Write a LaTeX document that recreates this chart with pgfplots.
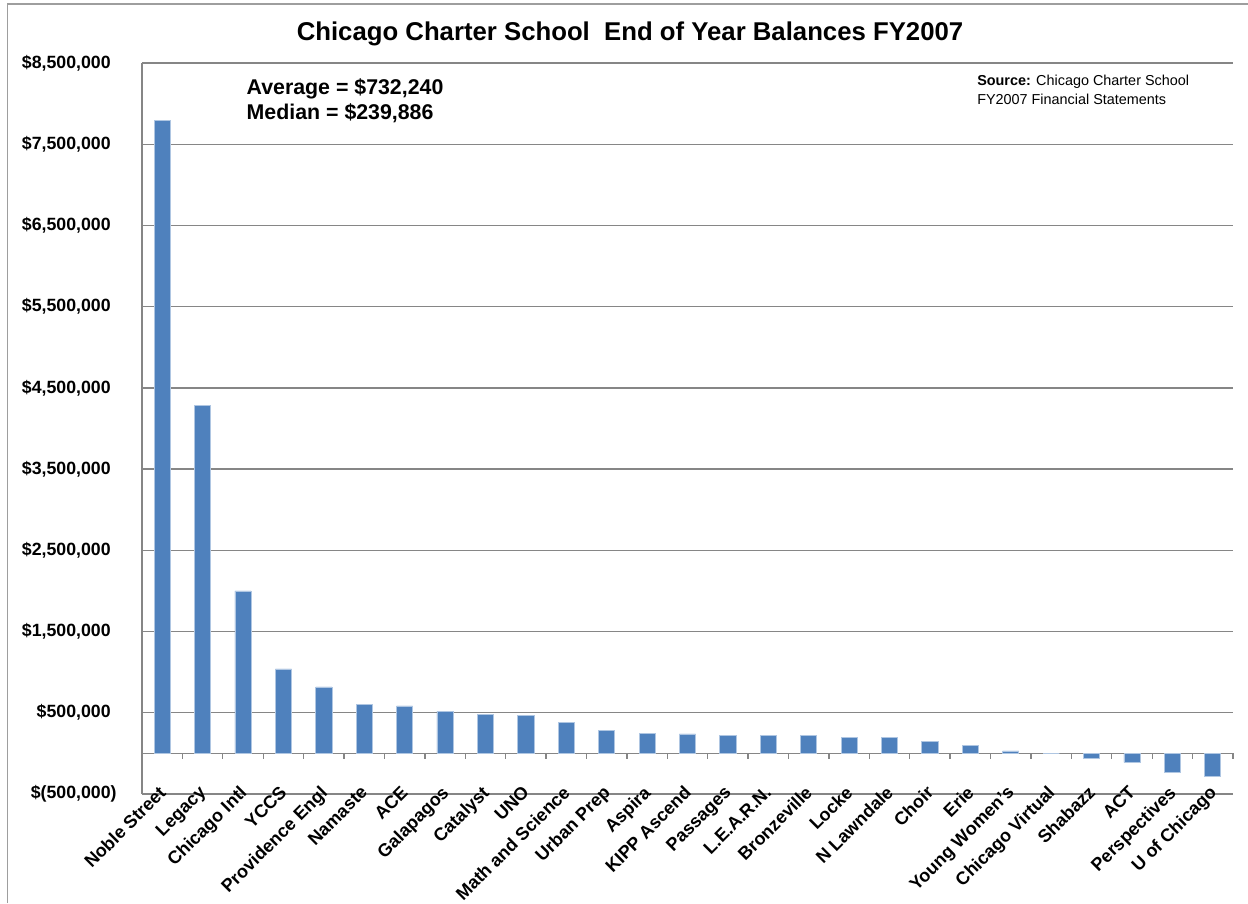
\documentclass[border=0pt]{standalone}
\usepackage{pgfplots}
\pgfplotsset{compat=1.18}
\usepackage{fontspec}
\setmainfont{Liberation Sans}
\definecolor{barblue}{RGB}{79,129,189}
\definecolor{baredge}{RGB}{175,198,226}
\definecolor{gridgray}{RGB}{134,134,134}
\begin{document}
\begin{tikzpicture}[x=0.75pt,y=0.75pt]
\useasboundingbox (0,0) rectangle (1248,903);
\draw[gridgray!80, line width=1pt] (7.5,0) -- (7.5,899) -- (1248,899);
\begin{axis}[
  at={(106.5pt,81.75pt)}, anchor=south west,
  scale only axis, width=818.25pt, height=548.25pt,
  xmin=-0.5, xmax=26.5, ymin=-500000, ymax=8500000,
  axis x line*=middle, axis y line*=left,
  axis line style={gridgray, line width=1pt},
  xtick={0,...,26},
  xticklabels={{Noble Street},{Legacy},{Chicago Intl},{YCCS},{Providence Engl},{Namaste},{ACE},{Galapagos},{Catalyst},{UNO},{Math and Science},{Urban Prep},{Aspira},{KIPP Ascend},{Passages},{L.E.A.R.N.},{Bronzeville},{Locke},{N Lawndale},{Choir},{Erie},{Young Women's},{Chicago Virtual},{Shabazz},{ACT},{Perspectives},{U of Chicago}},
  major x tick style={draw=none},
  minor xtick={-0.5,0.5,...,26.5},
  minor tick length=4pt,
  minor x tick style={gridgray, line width=1pt},
  tick align=outside,
  ytick={-500000,500000,1500000,2500000,3500000,4500000,5500000,6500000,7500000,8500000},
  yticklabels={{\$(500,000\rlap{)}},{\$500,000},{\$1,500,000},{\$2,500,000},{\$3,500,000},{\$4,500,000},{\$5,500,000},{\$6,500,000},{\$7,500,000},{\$8,500,000}},
  scaled y ticks=false,
  major y tick style={draw=none},
  ymajorgrids,
  grid style={gridgray, line width=1pt},
  y tick label style={font=\bfseries\fontsize{13.3}{16}\selectfont, anchor=east, inner sep=0pt, xshift=-19pt},
  x tick label style={font=\bfseries\fontsize{13.5}{15}\selectfont, xshift=-3.5pt, yshift=-19pt, rotate=45, anchor=north east, inner sep=0pt},
  clip=false,
]
\addplot[ybar, bar width=0.4, fill=barblue, draw=baredge, line width=0.6pt] coordinates {
(0,7790000) (1,4280000) (2,2000000) (3,1040000) (4,818000) (5,600000)
(6,584000) (7,517000) (8,480000) (9,464000) (10,378000) (11,280000)
(12,243000) (13,239886) (14,226000) (15,226000) (16,226000) (17,193000)
(18,193000) (19,144000) (20,95000) (21,30000) (22,0) (23,-57000)
(24,-110000) (25,-230000) (26,-280000)
};
\end{axis}
\node[font=\bfseries\fontsize{19.3}{22}\selectfont] at (630,869) {Chicago Charter School\ \ End of Year Balances FY2007};
\node[anchor=west, font=\bfseries\fontsize{16}{19}\selectfont] at (242,814) {Average = \$732,240};
\node[anchor=west, font=\bfseries\fontsize{16}{19}\selectfont] at (242,790) {Median = \$239,886};
\node[anchor=north west, align=left, inner sep=0pt, font=\fontsize{10.8}{14}\selectfont] at (977,828) {\textbf{Source:} Chicago Charter School\\FY2007 Financial Statements};
\end{tikzpicture}
\end{document}
